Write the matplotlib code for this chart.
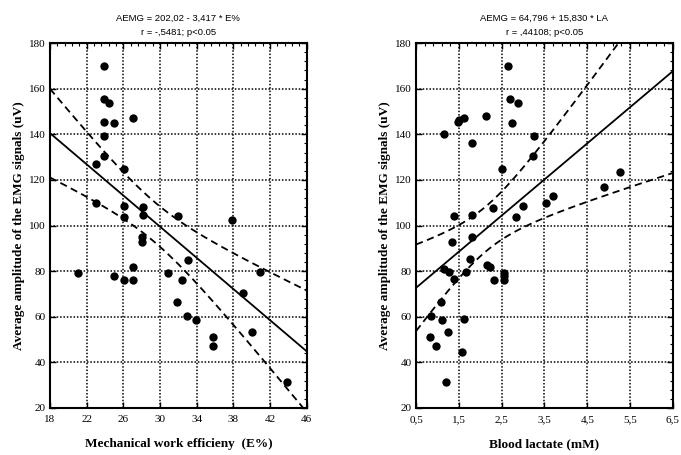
import numpy as np
import matplotlib.pyplot as plt
from matplotlib.ticker import AutoMinorLocator, FuncFormatter

# ---------------------------------------------------------------------------
# Data
# ---------------------------------------------------------------------------

# left panel: mechanical work efficiency (E%) vs AEMG
eff = [23.9, 23.9, 24.4, 23.9, 25.0, 27.0, 23.9, 23.9, 23.0, 26.1,
       23.0, 26.1, 28.1, 26.1, 28.1, 32.0, 28.0, 28.0, 37.9, 21.1,
       25.0, 26.1, 27.0, 27.0, 30.9, 33.0, 32.4, 31.9, 32.9, 33.9,
       35.8, 35.8, 39.0, 40.0, 40.9, 43.9]
aemg_eff = [170.0, 155.3, 153.6, 145.5, 144.8, 147.3, 139.4, 130.6, 127.1, 124.8,
            109.7, 108.7, 108.1, 103.9, 104.5, 104.3, 95.0, 93.0, 102.6, 79.3,
            78.0, 76.1, 76.1, 81.7, 79.3, 85.0, 76.1, 66.6, 60.5, 58.6,
            51.0, 47.3, 70.3, 53.4, 79.5, 31.4]

# right panel: blood lactate (mM) vs AEMG
lact = [2.65, 2.70, 2.88, 2.75, 1.16, 1.47, 1.50, 1.62, 2.14, 1.81,
        2.51, 1.39, 1.81, 2.30, 2.84, 2.99, 1.81, 3.26, 3.23, 3.54,
        3.69, 4.90, 5.27, 1.33, 1.16, 1.27, 1.76, 1.66, 1.39, 2.15,
        2.23, 2.33, 2.55, 2.55, 2.55, 1.09, 0.86, 1.11, 1.62, 0.82,
        0.96, 1.25, 1.57, 1.20]
aemg_lact = [170.1, 155.3, 153.6, 144.8, 140.3, 145.5, 146.3, 147.3, 148.0, 136.3,
             124.6, 104.3, 104.5, 107.8, 103.6, 108.7, 95.0, 139.4, 130.6, 109.7,
             113.1, 116.8, 123.6, 92.8, 80.8, 79.6, 85.2, 79.6, 76.4, 82.7,
             81.7, 76.1, 79.3, 76.1, 78.0, 66.6, 60.5, 58.6, 58.9, 51.0,
             47.3, 53.4, 44.7, 31.4]

# regression coefficients printed above each panel
fit_eff = (202.02, -3.417)
fit_lact = (64.796, 15.830)

xticks_eff = [18, 22, 26, 30, 34, 38, 42, 46]
xticks_lact = [0.5, 1.5, 2.5, 3.5, 4.5, 5.5, 6.5]
yticks = [20, 40, 60, 80, 100, 120, 140, 160, 180]

titles = ["AEMG = 202,02 - 3,417 * E%\nr = -,5481; p<0.05",
          "AEMG = 64,796 + 15,830 * LA\nr = ,44108; p<0.05"]
xlabels = ["Mechanical work efficieny  (E%)", "Blood lactate (mM)"]
ylabel = "Average amplitude of the EMG signals (uV)"


def conf_band(x, y, coef, xs, tval=2.03):
    x = np.asarray(x)
    y = np.asarray(y)
    b0, b1 = coef
    res = y - (b0 + b1 * x)
    n = len(x)
    s = np.sqrt(np.sum(res ** 2) / (n - 2))
    sxx = np.sum((x - x.mean()) ** 2)
    yhat = b0 + b1 * xs
    hw = tval * s * np.sqrt(1.0 / n + (xs - x.mean()) ** 2 / sxx)
    return yhat, yhat - hw, yhat + hw


fig = plt.figure(figsize=(6.81, 4.55), dpi=100)
ax1 = fig.add_axes([0.0734, 0.1033, 0.377, 0.802])
ax2 = fig.add_axes([0.611, 0.1033, 0.377, 0.802])

serif = "Liberation Serif"
sans = "Liberation Sans"

panels = [
    (ax1, eff, aemg_eff, fit_eff, xticks_eff, lambda v, p: "%d" % v),
    (ax2, lact, aemg_lact, fit_lact, xticks_lact,
     lambda v, p: ("%.1f" % v).replace(".", ",")),
]

for i, (ax, x, y, coef, xt, fmt) in enumerate(panels):
    xs = np.linspace(xt[0], xt[-1], 200)
    yhat, lo, hi = conf_band(x, y, coef, xs)
    ax.plot(xs, yhat, color="black", lw=1.3, zorder=3)
    ax.plot(xs, lo, color="black", lw=1.3, ls=(0, (4, 2.5)), zorder=3)
    ax.plot(xs, hi, color="black", lw=1.3, ls=(0, (4, 2.5)), zorder=3)
    ax.scatter(x, y, s=36, color="black", zorder=4, linewidths=0)

    ax.set_xlim(xt[0], xt[-1])
    ax.set_ylim(yticks[0], yticks[-1])
    ax.set_xticks(xt)
    ax.set_yticks(yticks)
    ax.xaxis.set_minor_locator(AutoMinorLocator(5))
    ax.yaxis.set_minor_locator(AutoMinorLocator(5))
    ax.xaxis.set_major_formatter(FuncFormatter(fmt))

    ax.grid(True, which="major", color="black", ls=(0, (1, 1.2)), lw=1.1)
    ax.tick_params(which="major", direction="in", length=4, width=1,
                   top=True, right=True, labelsize=8)
    ax.tick_params(axis="x", which="major", pad=5)
    ax.tick_params(axis="y", which="major", pad=3)
    ax.tick_params(which="minor", direction="in", length=2.5, width=0.8,
                   top=True, right=True, bottom=False, left=False)
    for lab in ax.get_xticklabels() + ax.get_yticklabels():
        lab.set_fontfamily(serif)
    for sp in ax.spines.values():
        sp.set_linewidth(1.5)

    ax.set_xlabel(xlabels[i], fontfamily=serif, fontweight="bold",
                  fontsize=9.5, labelpad=10)
    ax.set_ylabel(ylabel, fontfamily=serif, fontweight="bold",
                  fontsize=9.5, labelpad=3)
    ax.set_title(titles[i], fontfamily=sans, fontsize=6.8,
                 linespacing=1.75, pad=6)

fig.savefig("out.png", dpi=100)
